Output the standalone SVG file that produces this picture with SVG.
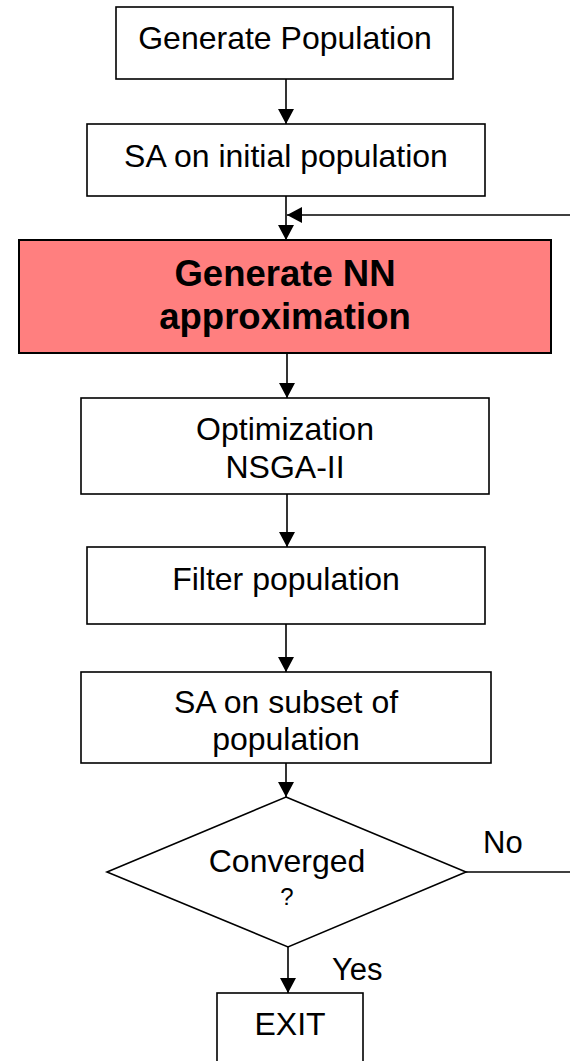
<svg xmlns="http://www.w3.org/2000/svg" width="570" height="1061" viewBox="0 0 570 1061">
<defs>
<style>
.box{fill:#fff;stroke:#000;stroke-width:1.6}
.red{fill:#FF7F7F;stroke:#000;stroke-width:2}
.t{font-family:"Liberation Sans",Arial,sans-serif;font-size:32px;fill:#000;text-anchor:middle}
.q{font-family:"Liberation Sans",Arial,sans-serif;font-size:24px;fill:#000;text-anchor:middle}
.b{font-family:"Liberation Sans",Arial,sans-serif;font-size:36.5px;font-weight:bold;fill:#000;text-anchor:middle}
.l{font-family:"Liberation Sans",Arial,sans-serif;font-size:31px;fill:#000}
.c{fill:none;stroke:#000;stroke-width:1.6}
</style>
<marker id="ah" markerUnits="userSpaceOnUse" markerWidth="16" markerHeight="16" viewBox="0 0 16 16" refX="15" refY="8" orient="auto">
<path d="M0,0 L15,8 L0,16 Z" fill="#000"/>
</marker>
</defs>
<rect width="570" height="1061" fill="#fff"/>
<g id="connectors">
<line class="c" x1="286" y1="79" x2="286" y2="124" marker-end="url(#ah)"/>
<line class="c" x1="286" y1="196" x2="286" y2="240" marker-end="url(#ah)"/>
<line class="c" x1="570" y1="215" x2="287" y2="215" marker-end="url(#ah)"/>
<line class="c" x1="287" y1="353" x2="287" y2="398" marker-end="url(#ah)"/>
<line class="c" x1="287" y1="494" x2="287" y2="547" marker-end="url(#ah)"/>
<line class="c" x1="286" y1="624" x2="286" y2="672" marker-end="url(#ah)"/>
<line class="c" x1="286" y1="763" x2="286" y2="797" marker-end="url(#ah)"/>
<line class="c" x1="466" y1="872" x2="570" y2="872"/>
<line class="c" x1="288" y1="947" x2="288" y2="993" marker-end="url(#ah)"/>
<text class="l" x="483" y="853">No</text>
<text class="l" x="332" y="980">Yes</text>
</g>
<g id="n1">
<rect class="box" x="116" y="7" width="337" height="72"/>
<text class="t" x="285" y="49">Generate Population</text>
</g>
<g id="n2">
<rect class="box" x="87" y="124" width="398" height="72"/>
<text class="t" x="286" y="167">SA on initial population</text>
</g>
<g id="n3">
<rect class="red" x="19" y="240" width="532" height="113"/>
<text class="b" x="285" y="286">Generate NN</text>
<text class="b" x="285" y="329">approximation</text>
</g>
<g id="n4">
<rect class="box" x="81" y="398" width="408" height="96"/>
<text class="t" x="285" y="440">Optimization</text>
<text class="t" x="285" y="478">NSGA-II</text>
</g>
<g id="n5">
<rect class="box" x="87" y="547" width="398" height="77"/>
<text class="t" x="286" y="590">Filter population</text>
</g>
<g id="n6">
<rect class="box" x="81" y="672" width="410" height="91"/>
<text class="t" x="286" y="713">SA on subset of</text>
<text class="t" x="286" y="750">population</text>
</g>
<g id="n7">
<polygon class="box" points="286,797 466,872 288,947 107,872"/>
<text class="t" x="287" y="872">Converged</text>
<text class="q" x="287" y="905">?</text>
</g>
<g id="n8">
<rect class="box" x="217" y="993" width="146" height="80"/>
<text class="t" x="290" y="1035">EXIT</text>
</g>
</svg>
